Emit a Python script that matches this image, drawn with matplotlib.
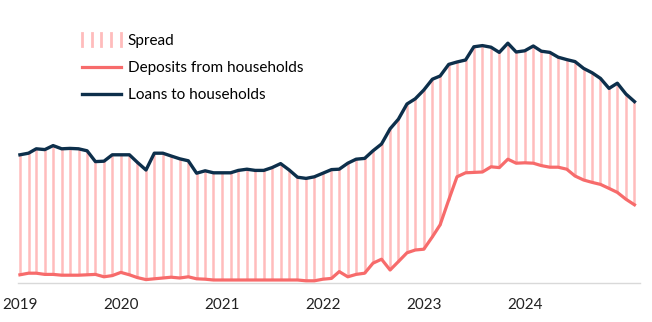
import numpy as np
import pandas as pd
import matplotlib
matplotlib.use("Agg")
import matplotlib.pyplot as plt
from matplotlib.legend_handler import HandlerBase
from matplotlib.lines import Line2D

plt.rcParams["font.family"] = ["Lato", "DejaVu Sans"]

# monthly rates, %, Jan 2019 - Feb 2025
months = pd.date_range("2019-01-01", periods=74, freq="MS")

loans = [
    3.23, 3.27, 3.38, 3.36, 3.46, 3.38, 3.39, 3.38, 3.33, 3.06, 3.07, 3.23,
    3.23, 3.23, 3.04, 2.85, 3.27, 3.27, 3.20, 3.13, 3.08, 2.77, 2.83, 2.78,
    2.78, 2.78, 2.84, 2.87, 2.84, 2.84, 2.91, 3.01, 2.85, 2.67, 2.64, 2.68,
    2.77, 2.86, 2.87, 3.02, 3.12, 3.14, 3.33, 3.50, 3.88, 4.12, 4.50, 4.63,
    4.85, 5.12, 5.20, 5.49, 5.55, 5.60, 5.93, 5.96, 5.92, 5.79, 6.02, 5.80,
    5.83, 5.95, 5.82, 5.79, 5.67, 5.61, 5.56, 5.39, 5.28, 5.14, 4.89, 5.02,
    4.75, 4.56,
]

deposits = [
    0.23, 0.27, 0.27, 0.24, 0.24, 0.22, 0.22, 0.22, 0.23, 0.24, 0.18, 0.21,
    0.29, 0.23, 0.16, 0.11, 0.13, 0.15, 0.17, 0.15, 0.18, 0.13, 0.12, 0.10,
    0.10, 0.10, 0.10, 0.10, 0.10, 0.10, 0.10, 0.10, 0.10, 0.10, 0.08, 0.08,
    0.12, 0.14, 0.31, 0.18, 0.24, 0.27, 0.52, 0.62, 0.35, 0.56, 0.78, 0.85,
    0.87, 1.18, 1.48, 2.10, 2.68, 2.78, 2.79, 2.80, 2.93, 2.91, 3.12, 3.02,
    3.03, 3.02, 2.96, 2.92, 2.92, 2.87, 2.70, 2.60, 2.54, 2.49, 2.39, 2.29,
    2.12, 1.98,
]

year_ticks = pd.date_range("2019-01-01", "2024-01-01", freq="YS")
year_labels = [str(d.year) for d in year_ticks]

SPREAD_COLOR = "#ffbcbc"
DEPOSIT_COLOR = "#f76b6b"
LOAN_COLOR = "#0d2f4b"


class SpreadHandler(HandlerBase):
    # five short vertical ticks as the legend key
    def create_artists(self, legend, orig_handle, xdescent, ydescent,
                       width, height, fontsize, trans):
        artists = []
        for x in np.linspace(0, width, 5):
            ln = Line2D([x - xdescent, x - xdescent],
                        [-ydescent - 0.1 * height, height * 1.1 - ydescent],
                        color=SPREAD_COLOR, lw=2, transform=trans)
            artists.append(ln)
        return artists


fig = plt.figure(figsize=(6.52, 3.22), dpi=100)
ax = fig.add_axes([18 / 652, 39 / 322, 622 / 652, 253 / 322])

ax.vlines(months, deposits, loans, color=SPREAD_COLOR, lw=1.8, zorder=1)
dep_line, = ax.plot(months, deposits, color=DEPOSIT_COLOR, lw=2.3, zorder=3)
loan_line, = ax.plot(months, loans, color=LOAN_COLOR, lw=2.4, zorder=3)

ax.set_xlim(months[0] - pd.Timedelta(days=7), months[-1] + pd.Timedelta(days=20))
ax.set_ylim(0.025, 6.35)

ax.set_xticks(year_ticks)
ax.set_xticklabels(year_labels)
ax.tick_params(axis="x", length=0, pad=11, labelsize=11, labelcolor="#222222")
ax.set_yticks([])

for side in ["top", "right", "left"]:
    ax.spines[side].set_visible(False)
ax.spines["bottom"].set_color("#d9d9d9")
ax.spines["bottom"].set_linewidth(1)

spread_key = object()
fig.legend(
    [spread_key, dep_line, loan_line],
    ["Spread", "Deposits from households", "Loans to households"],
    handler_map={spread_key: SpreadHandler()},
    loc="upper left",
    bbox_to_anchor=(82 / 652, 1 - 34 / 322),
    frameon=False,
    fontsize=11,
    handlelength=2.55,
    handletextpad=0.45,
    labelspacing=0.85,
    borderpad=0,
    borderaxespad=0,
)

fig.savefig("out.png", dpi=100)
